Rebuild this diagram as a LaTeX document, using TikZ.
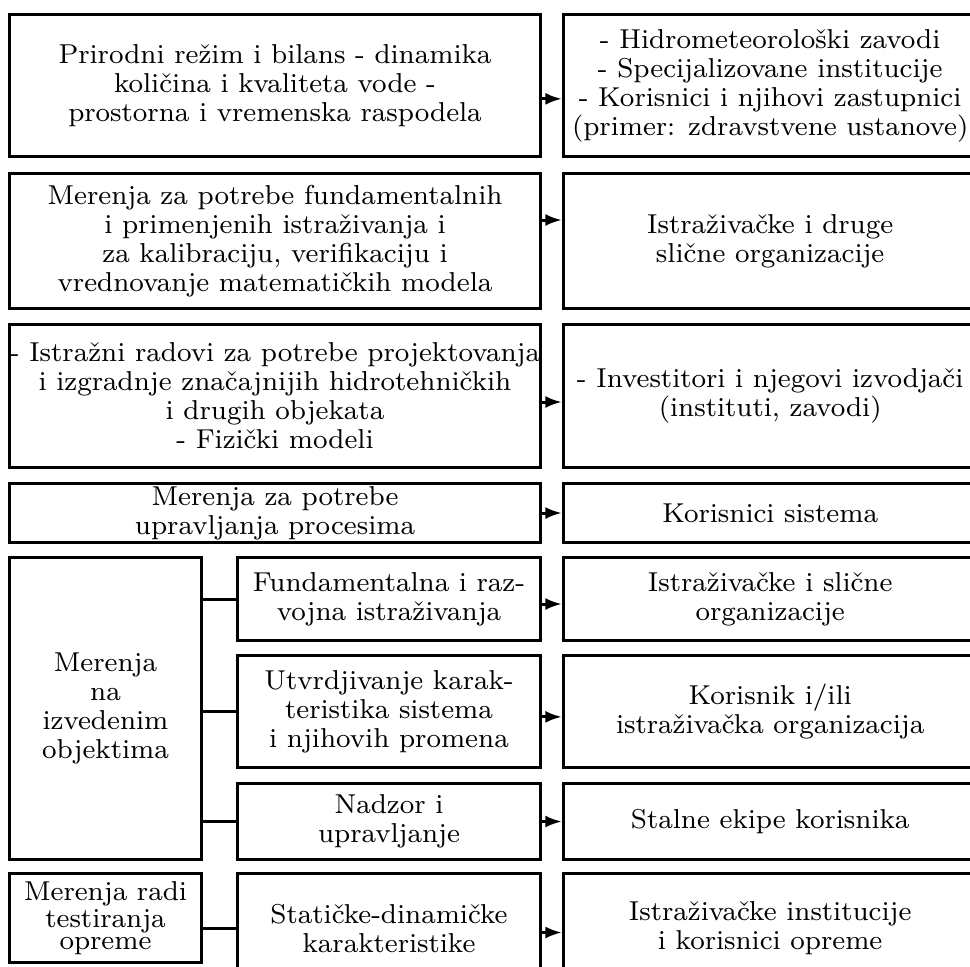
\documentclass[tikz,border=0pt]{standalone}
\usepackage{tikz}
\usetikzlibrary{arrows.meta,positioning}

\tikzset{
  blok/.style={draw, inner sep=0pt, align=center, font=\fontsize{8.2}{8.7}\selectfont},
  lijevi/.style={blok, minimum width=159.3pt},
  desni/.style={blok, minimum width=124pt},
  pod/.style={blok, minimum width=90.9pt},
  uski/.style={blok, minimum width=57.6pt}
}

\begin{document}
\begin{tikzpicture}[-,>={Latex[length=5pt,width=3.6pt]},auto,node distance=3.9pt,line width=0.9pt]

\useasboundingbox (0,0) rectangle (291pt,-289.8pt);
\clip (0,0) rectangle (291pt,-289.8pt);

\node[lijevi, minimum height=42.6pt, anchor=north west] (L1) at (2.4pt,-3.9pt)
  {Prirodni režim i bilans - dinamika\\ količina i kvaliteta vode -\\ prostorna i vremenska raspodela};
\node[desni, minimum height=42.6pt] (R1) [right=6pt of L1]
  {- Hidrometeorološki zavodi\\ - Specijalizovane institucije\\ - Korisnici i njihovi zastupnici\\ (primer: zdravstvene ustanove)};

\node[lijevi, minimum height=40.5pt] (L2) [below=4.2pt of L1]
  {Merenja za potrebe fundamentalnih\\ i primenjenih istraživanja i\\ za kalibraciju, verifikaciju i\\ vrednovanje matematičkih modela};
\node[desni, minimum height=40.5pt] (R2) [right=6pt of L2]
  {Istraživačke i druge\\ slične organizacije};

\node[lijevi, minimum height=42.9pt] (L3) [below=of L2]
  {\makebox[0pt]{- Istražni radovi za potrebe projektovanja}\\ i izgradnje značajnijih hidrotehničkih\\ i drugih objekata\\ - Fizički modeli};
\node[desni, minimum height=42.9pt] (R3) [right=6pt of L3]
  {- Investitori i njegovi izvodjači\\ (instituti, zavodi)};

\node[lijevi, minimum height=17.7pt] (L4) [below=of L3]
  {Merenja za potrebe\\ upravljanja procesima};
\node[desni, minimum height=17.7pt] (R4) [right=6pt of L4]
  {Korisnici sistema};

% merenja na izvedenim objektima
\node[uski, minimum height=90.6pt] (M) [below=3.6pt of L4.south west, anchor=north west]
  {Merenja\\ na\\ izvedenim\\ objektima};
\node[pod, minimum height=24.9pt] (F1) [below=3.6pt of L4.south east, anchor=north east]
  {Fundamentalna i raz-\\ vojna istraživanja};
\node[pod, minimum height=33.6pt] (F2) [below=3.6pt of F1]
  {Utvrdjivanje karak-\\ teristika sistema\\ i njihovih promena};
\node[pod, minimum height=22.8pt] (F3) [below=of F2]
  {Nadzor i\\ upravljanje};
\node[desni, minimum height=24.9pt] (R5) [right=6pt of F1]
  {Istraživačke i slične\\ organizacije};
\node[desni, minimum height=33.6pt] (R6) [right=6pt of F2]
  {Korisnik i/ili\\ istraživačka organizacija};
\node[desni, minimum height=22.8pt] (R7) [right=6pt of F3]
  {Stalne ekipe korisnika};

% testiranje opreme
\node[uski, minimum height=26.7pt, font=\fontsize{8.2}{6.75}\selectfont] (T) [below=3.3pt of M.south west, anchor=north west]
  {Merenja radi\\ testiranja\\ opreme};
\node[pod, minimum height=33pt] (S) [below=3.3pt of F3]
  {Statičke-dinamičke\\ karakteristike};
\node[desni, minimum height=33pt] (R8) [right=6pt of S]
  {Istraživačke institucije\\ i korisnici opreme};

\path ([yshift=-4pt]L1.east) edge[->] ([yshift=-4pt]R1.west)
      ([yshift=6.3pt]L2.east) edge[->] ([yshift=6.3pt]R2.west)
      ([yshift=-1.8pt]L3.east) edge[->] ([yshift=-1.8pt]R3.west)
      (L4.east) edge[->] (R4.west)
      ([yshift=-1.5pt]F1.east) edge[->] ([yshift=-1.5pt]R5.west)
      ([yshift=-1.6pt]F2.east) edge[->] ([yshift=-1.6pt]R6.west)
      (F3.east) edge[->] (R7.west)
      ([yshift=-1.2pt]S.east) edge[->] ([yshift=-1.2pt]R8.west);

\path (F1.west -| M.east) edge (F1.west)
      (F2.west -| M.east) edge (F2.west)
      (F3.west -| M.east) edge (F3.west)
      (S.west -| T.east) edge (S.west);

\end{tikzpicture}
\end{document}
